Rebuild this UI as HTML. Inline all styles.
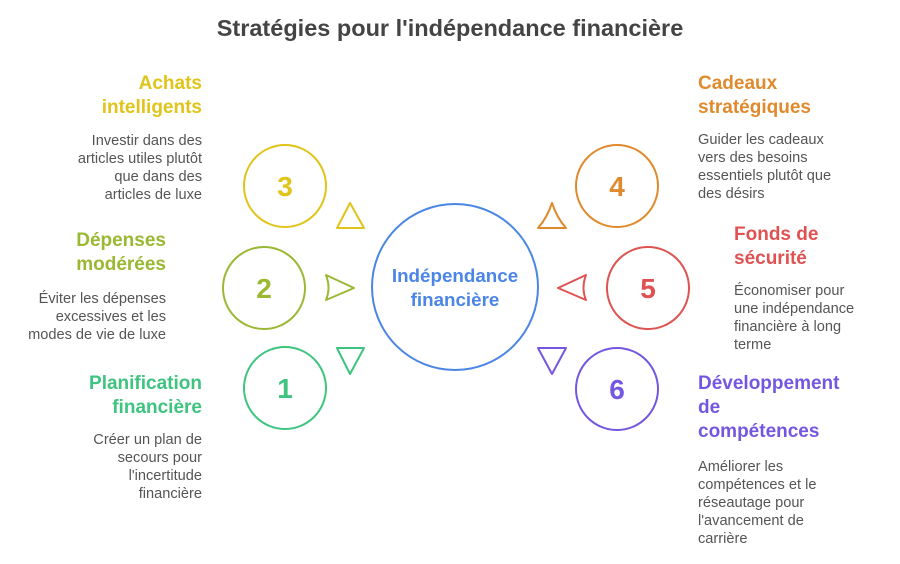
<!DOCTYPE html>
<html><head><meta charset="utf-8"><style>
body{margin:0;width:900px;height:564px;background:#fff;position:relative;overflow:hidden;font-family:"Liberation Sans",sans-serif}
.t{position:absolute;font-weight:bold;font-size:19px;line-height:24px}
.b{position:absolute;font-size:14.6px;line-height:18px;color:#555}
.r{text-align:right}
</style></head><body>
<div style="position:absolute;left:0;top:15px;width:900px;text-align:center;font-size:23.5px;font-weight:bold;color:#444">Stratégies pour l'indépendance financière</div>
<svg width="900" height="564" style="position:absolute;left:0;top:0" fill="none" stroke-width="2">
<circle cx="455" cy="287" r="83" stroke="#4b86e6"/>
<circle cx="285" cy="186" r="41" stroke="#e0c41a"/>
<circle cx="264" cy="288" r="41" stroke="#9ab832"/>
<circle cx="285" cy="388" r="41" stroke="#3ec47f"/>
<circle cx="617" cy="186" r="41" stroke="#e08a2e"/>
<circle cx="648" cy="288" r="41" stroke="#e05252"/>
<circle cx="617" cy="389" r="41" stroke="#7457e0"/>
<path d="M350 203 L364 228 L337 228 Z" stroke="#e0c41a" stroke-linejoin="round"/>
<path d="M326 275 L354 288 L326 300 Q331 288 326 275 Z" stroke="#9ab832" stroke-linejoin="round"/>
<path d="M337 348 L364 348 L350 374 Z" stroke="#3ec47f" stroke-linejoin="round"/>
<path d="M552 203 Q557 218 566 228 L538 228 Q547 218 552 203 Z" stroke="#e08a2e" stroke-linejoin="round"/>
<path d="M586 275 L558 288 L586 300 Q581 288 586 275 Z" stroke="#e05252" stroke-linejoin="round"/>
<path d="M538 348 L566 348 L552 374 Z" stroke="#7457e0" stroke-linejoin="round"/>
<g font-family="Liberation Sans,sans-serif" font-weight="bold" font-size="28" text-anchor="middle" stroke="none">
<text x="285" y="196" fill="#e0c41a">3</text>
<text x="264" y="298" fill="#9ab832">2</text>
<text x="285" y="398" fill="#3ec47f">1</text>
<text x="617" y="196" fill="#e08a2e">4</text>
<text x="648" y="298" fill="#e05252">5</text>
<text x="617" y="399" fill="#7457e0">6</text>
<text x="455" y="282" font-size="18.8" fill="#4b86e6">Indépendance</text>
<text x="455" y="306" font-size="18.8" fill="#4b86e6">financière</text>
</g>
</svg>
<div class="t r" style="right:698px;top:72px;color:#e0c41a">Achats<br>intelligents</div>
<div class="b r" style="right:698px;top:132px">Investir dans des<br>articles utiles plutôt<br>que dans des<br>articles de luxe</div>
<div class="t r" style="right:734px;top:229px;color:#9ab832">Dépenses<br>modérées</div>
<div class="b r" style="right:734px;top:290px">Éviter les dépenses<br>excessives et les<br>modes de vie de luxe</div>
<div class="t r" style="right:698px;top:372px;color:#3ec47f">Planification<br>financière</div>
<div class="b r" style="right:698px;top:431px">Créer un plan de<br>secours pour<br>l'incertitude<br>financière</div>
<div class="t" style="left:698px;top:72px;color:#e08a2e">Cadeaux<br>stratégiques</div>
<div class="b" style="left:698px;top:131px">Guider les cadeaux<br>vers des besoins<br>essentiels plutôt que<br>des désirs</div>
<div class="t" style="left:734px;top:223px;color:#e05252">Fonds de<br>sécurité</div>
<div class="b" style="left:734px;top:282px">Économiser pour<br>une indépendance<br>financière à long<br>terme</div>
<div class="t" style="left:698px;top:372px;color:#7457e0">Développement<br>de<br>compétences</div>
<div class="b" style="left:698px;top:458px">Améliorer les<br>compétences et le<br>réseautage pour<br>l'avancement de<br>carrière</div>
</body></html>
